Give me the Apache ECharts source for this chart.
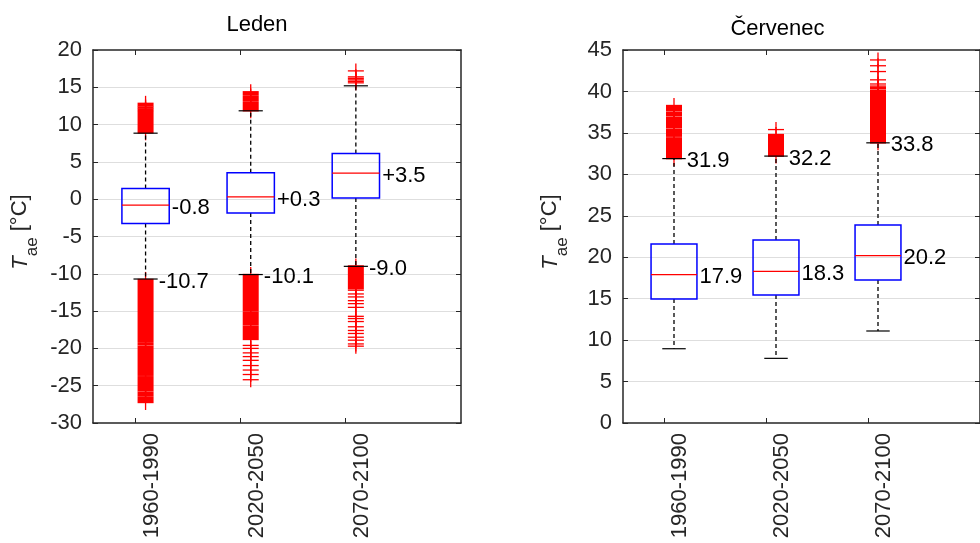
<!DOCTYPE html>
<html><head><meta charset="utf-8">
<script src="https://cdn.jsdelivr.net/npm/echarts@6/dist/echarts.min.js"></script>
<style>html,body{margin:0;padding:0;background:#fff}#c{width:980px;height:543px}</style>
</head><body><div id="c"></div>
<script>
// ---------- data ----------
const categories = ['1960-1990', '2020-2050', '2070-2100'];

// Leden (January)
const ledenLowerWhisker = [-10.7, -10.1, -9.0];
const ledenQ1 = [-3.25, -1.84, 0.17];
const ledenMedian = [-0.8, 0.3, 3.5];
const ledenQ3 = [1.45, 3.53, 6.13];
const ledenUpperWhisker = [8.85, 11.85, 15.2];
// dense runs of outliers [low, high] per group
const ledenOutlierBands = [
  [[8.9, 11.75], [11.9, 12.05], [12.2, 12.35], [12.5, 12.85],
   [-19.05, -10.75], [-19.5, -19.25], [-23.6, -19.7], [-25.7, -23.8], [-26.3, -25.9], [-27.25, -26.5]],
  [[11.85, 12.95], [13.15, 13.85], [14.05, 14.4],
   [-15.0, -10.1], [-16.8, -15.2], [-18.8, -17.0]],
  [[-12.0, -8.95]]
];
// individual outliers per group
const ledenOutliers = [
  [],
  [-19.6, -20.0, -20.6, -21.1, -21.6, -22.3, -22.9, -23.5, -24.2],
  [17.2, 16.4, 16.2, 16.0, 15.8, 15.6,
   -12.2, -12.7, -13.1, -13.6, -14.0, -14.5, -15.7, -16.0, -16.4,
   -17.1, -17.6, -18.0, -18.5, -18.9, -19.4, -19.7]
];

// Červenec (July)
const cervenecLowerWhisker = [8.96, 7.8, 11.1];
const cervenecQ1 = [14.96, 15.44, 17.25];
const cervenecMedian = [17.9, 18.3, 20.2];
const cervenecQ3 = [21.6, 22.07, 23.9];
const cervenecUpperWhisker = [31.9, 32.2, 33.8];
const cervenecOutlierBands = [
  [[31.9, 34.4], [34.6, 35.4], [35.6, 36.9], [37.1, 37.45], [37.65, 38.3]],
  [[32.2, 34.8]],
  [[33.8, 40.15], [40.35, 40.5]]
];
const cervenecOutliers = [
  [],
  [35.4],
  [40.65, 40.9, 41.4, 42.4, 43.1, 43.8]
];

// ---------- style constants ----------
const FONT = 'Liberation Sans';
const AX = '#262626';
const BOX_HALF = 0.225, CAP_HALF = 0.115;
const PLUS_HW = 8, PLUS_HH = 7.5;
const MED_DX = 0.25, WHISK_DX = 0.125, LABEL_DY = 2.5;
const TICK_POS = [0.9, 1.9, 2.9];
const LABEL_POS = [1.06, 2.06, 3.06];

function fmt(v, signed) {
  const s = v.toFixed(1);
  return (signed && v > 0) ? '+' + s : s;
}

function boxSeries(g, lw, q1, med, q3, uw, labelSide, signed) {
  return {
    type: 'custom', xAxisIndex: g * 2, yAxisIndex: g * 2, z: 5, silent: true,
    data: categories.map((_, i) => [i + 1, lw[i], q1[i], med[i], q3[i], uw[i]]),
    renderItem: function (params, api) {
      const p = api.value(0), l = api.value(1), a = api.value(2), m = api.value(3), b = api.value(4), u = api.value(5);
      const c = (x, y) => api.coord([x, y]);
      const tl = c(p - BOX_HALF, b), br = c(p + BOX_HALF, a);
      const line = (p1, p2, st) => ({ type: 'line', shape: { x1: p1[0], y1: p1[1], x2: p2[0], y2: p2[1] }, style: st });
      const dash = { stroke: '#000', lineWidth: 1.3, lineDash: [4, 3] };
      const solid = { stroke: '#000', lineWidth: 1.2 };
      const wv = labelSide === 'lower' ? l : u;
      const mp = c(p + MED_DX, m), wp = c(p + WHISK_DX, wv);
      return {
        type: 'group', children: [
          line(c(p, b), c(p, u), dash),
          line(c(p, a), c(p, l), dash),
          line(c(p - CAP_HALF, u), c(p + CAP_HALF, u), solid),
          line(c(p - CAP_HALF, l), c(p + CAP_HALF, l), solid),
          { type: 'rect', shape: { x: tl[0], y: tl[1], width: br[0] - tl[0], height: br[1] - tl[1] },
            style: { fill: null, stroke: '#0000ff', lineWidth: 1.5 } },
          line(c(p - BOX_HALF, m), c(p + BOX_HALF, m), { stroke: '#ff0000', lineWidth: 1.3 }),
          { type: 'text', x: mp[0], y: mp[1] + LABEL_DY,
            style: { text: fmt(m, signed), fontSize: 22, fontFamily: FONT, fill: '#000', align: 'left', verticalAlign: 'middle' } },
          { type: 'text', x: wp[0], y: wp[1] + LABEL_DY,
            style: { text: fmt(wv, signed), fontSize: 22, fontFamily: FONT, fill: '#000', align: 'left', verticalAlign: 'middle' } }
        ]
      };
    }
  };
}

function bandSeries(g, bands) {
  return {
    type: 'custom', xAxisIndex: g * 2, yAxisIndex: g * 2, z: 3, silent: true,
    data: bands.flatMap((bs, i) => bs.map(bb => [i + 1, bb[0], bb[1]])),
    renderItem: function (params, api) {
      const lo = api.coord([api.value(0), api.value(1)]);
      const hi = api.coord([api.value(0), api.value(2)]);
      return {
        type: 'group', children: [
          { type: 'rect', shape: { x: lo[0] - PLUS_HW, y: hi[1] - 0.7, width: PLUS_HW * 2, height: lo[1] - hi[1] + 1.4 },
            style: { fill: '#ff0000' } },
          { type: 'line', shape: { x1: lo[0], y1: hi[1] - PLUS_HH, x2: lo[0], y2: lo[1] + PLUS_HH },
            style: { stroke: '#ff0000', lineWidth: 1.3 } }
        ]
      };
    }
  };
}

function plusSeries(g, outs) {
  return {
    type: 'custom', xAxisIndex: g * 2, yAxisIndex: g * 2, z: 3, silent: true,
    data: outs.flatMap((vs, i) => vs.map(v => [i + 1, v])),
    renderItem: function (params, api) {
      const q = api.coord([api.value(0), api.value(1)]);
      const st = { stroke: '#ff0000', lineWidth: 1.3 };
      return {
        type: 'group', children: [
          { type: 'line', shape: { x1: q[0] - PLUS_HW, y1: q[1], x2: q[0] + PLUS_HW, y2: q[1] }, style: st },
          { type: 'line', shape: { x1: q[0], y1: q[1] - PLUS_HH, x2: q[0], y2: q[1] + PLUS_HH }, style: st }
        ]
      };
    }
  };
}

function xAxes(g) {
  const base = {
    type: 'value', gridIndex: g, min: 0.5, max: 4,
    axisLine: { show: true, onZero: false, lineStyle: { color: AX, width: 1.5 } },
    axisTick: { show: true, inside: true, length: 5, customValues: TICK_POS, lineStyle: { color: AX, width: 1 } },
    splitLine: { show: false }
  };
  return [
    Object.assign({}, base, {
      position: 'bottom',
      axisLabel: { show: true, customValues: LABEL_POS, rotate: 90, margin: 10, fontSize: 22, fontFamily: FONT, color: AX,
        formatter: v => categories[Math.round(v - LABEL_POS[0])] }
    }),
    Object.assign({}, base, { position: 'top', axisLabel: { show: false } })
  ];
}

function yAxes(g, min, max) {
  const base = {
    type: 'value', gridIndex: g, min: min, max: max, interval: 5,
    axisLine: { show: true, onZero: false, lineStyle: { color: AX, width: 1.5 } },
    axisTick: { show: true, inside: true, length: 5, lineStyle: { color: AX, width: 1 } }
  };
  return [
    Object.assign({}, base, {
      position: 'left',
      axisLabel: { show: true, margin: 11, fontSize: 22, fontFamily: FONT, color: AX },
      splitLine: { show: true, showMinLine: false, showMaxLine: false, lineStyle: { color: '#dedede', width: 1 } }
    }),
    Object.assign({}, base, { position: 'right', axisLabel: { show: false }, splitLine: { show: false } })
  ];
}

function yTitle(xMid, yCenter) {
  const tW = 13.4, sW = 18.9, total = 75.3;
  return {
    type: 'group', x: xMid, y: yCenter + total / 2, rotation: Math.PI / 2, silent: true,
    children: [
      { type: 'text', x: 0, y: 0, style: { text: 'T', fontSize: 22, fontStyle: 'italic', fontFamily: FONT, fill: AX, align: 'left', verticalAlign: 'middle' } },
      { type: 'text', x: tW, y: 12, style: { text: 'ae', fontSize: 17, fontFamily: FONT, fill: AX, align: 'left', verticalAlign: 'middle' } },
      { type: 'text', x: tW + sW, y: 0, style: { text: ' [°C]', fontSize: 22, fontFamily: FONT, fill: AX, align: 'left', verticalAlign: 'middle' } }
    ]
  };
}

const option = {
  animation: false,
  backgroundColor: '#fff',
  grid: [
    { left: 93, top: 50, width: 368, height: 373 },
    { left: 623, top: 50, width: 368, height: 373 }
  ],
  xAxis: [...xAxes(0), ...xAxes(1)],
  yAxis: [...yAxes(0, -30, 20), ...yAxes(1, 0, 45)],
  series: [
    bandSeries(0, ledenOutlierBands),
    plusSeries(0, ledenOutliers),
    boxSeries(0, ledenLowerWhisker, ledenQ1, ledenMedian, ledenQ3, ledenUpperWhisker, 'lower', true),
    bandSeries(1, cervenecOutlierBands),
    plusSeries(1, cervenecOutliers),
    boxSeries(1, cervenecLowerWhisker, cervenecQ1, cervenecMedian, cervenecQ3, cervenecUpperWhisker, 'upper', false)
  ],
  graphic: [
    { type: 'text', x: 257, y: 24.6, silent: true, style: { text: 'Leden', fontSize: 22, fontFamily: FONT, fill: '#000', align: 'center', verticalAlign: 'middle' } },
    { type: 'text', x: 777.5, y: 29, silent: true, style: { text: 'Červenec', fontSize: 22, fontFamily: FONT, fill: '#000', align: 'center', verticalAlign: 'middle' } },
    yTitle(20.4, 232),
    yTitle(550.4, 232)
  ]
};

const chart = echarts.init(document.getElementById('c'), null, { renderer: 'canvas' });
chart.setOption(option);
</script>
</body></html>
